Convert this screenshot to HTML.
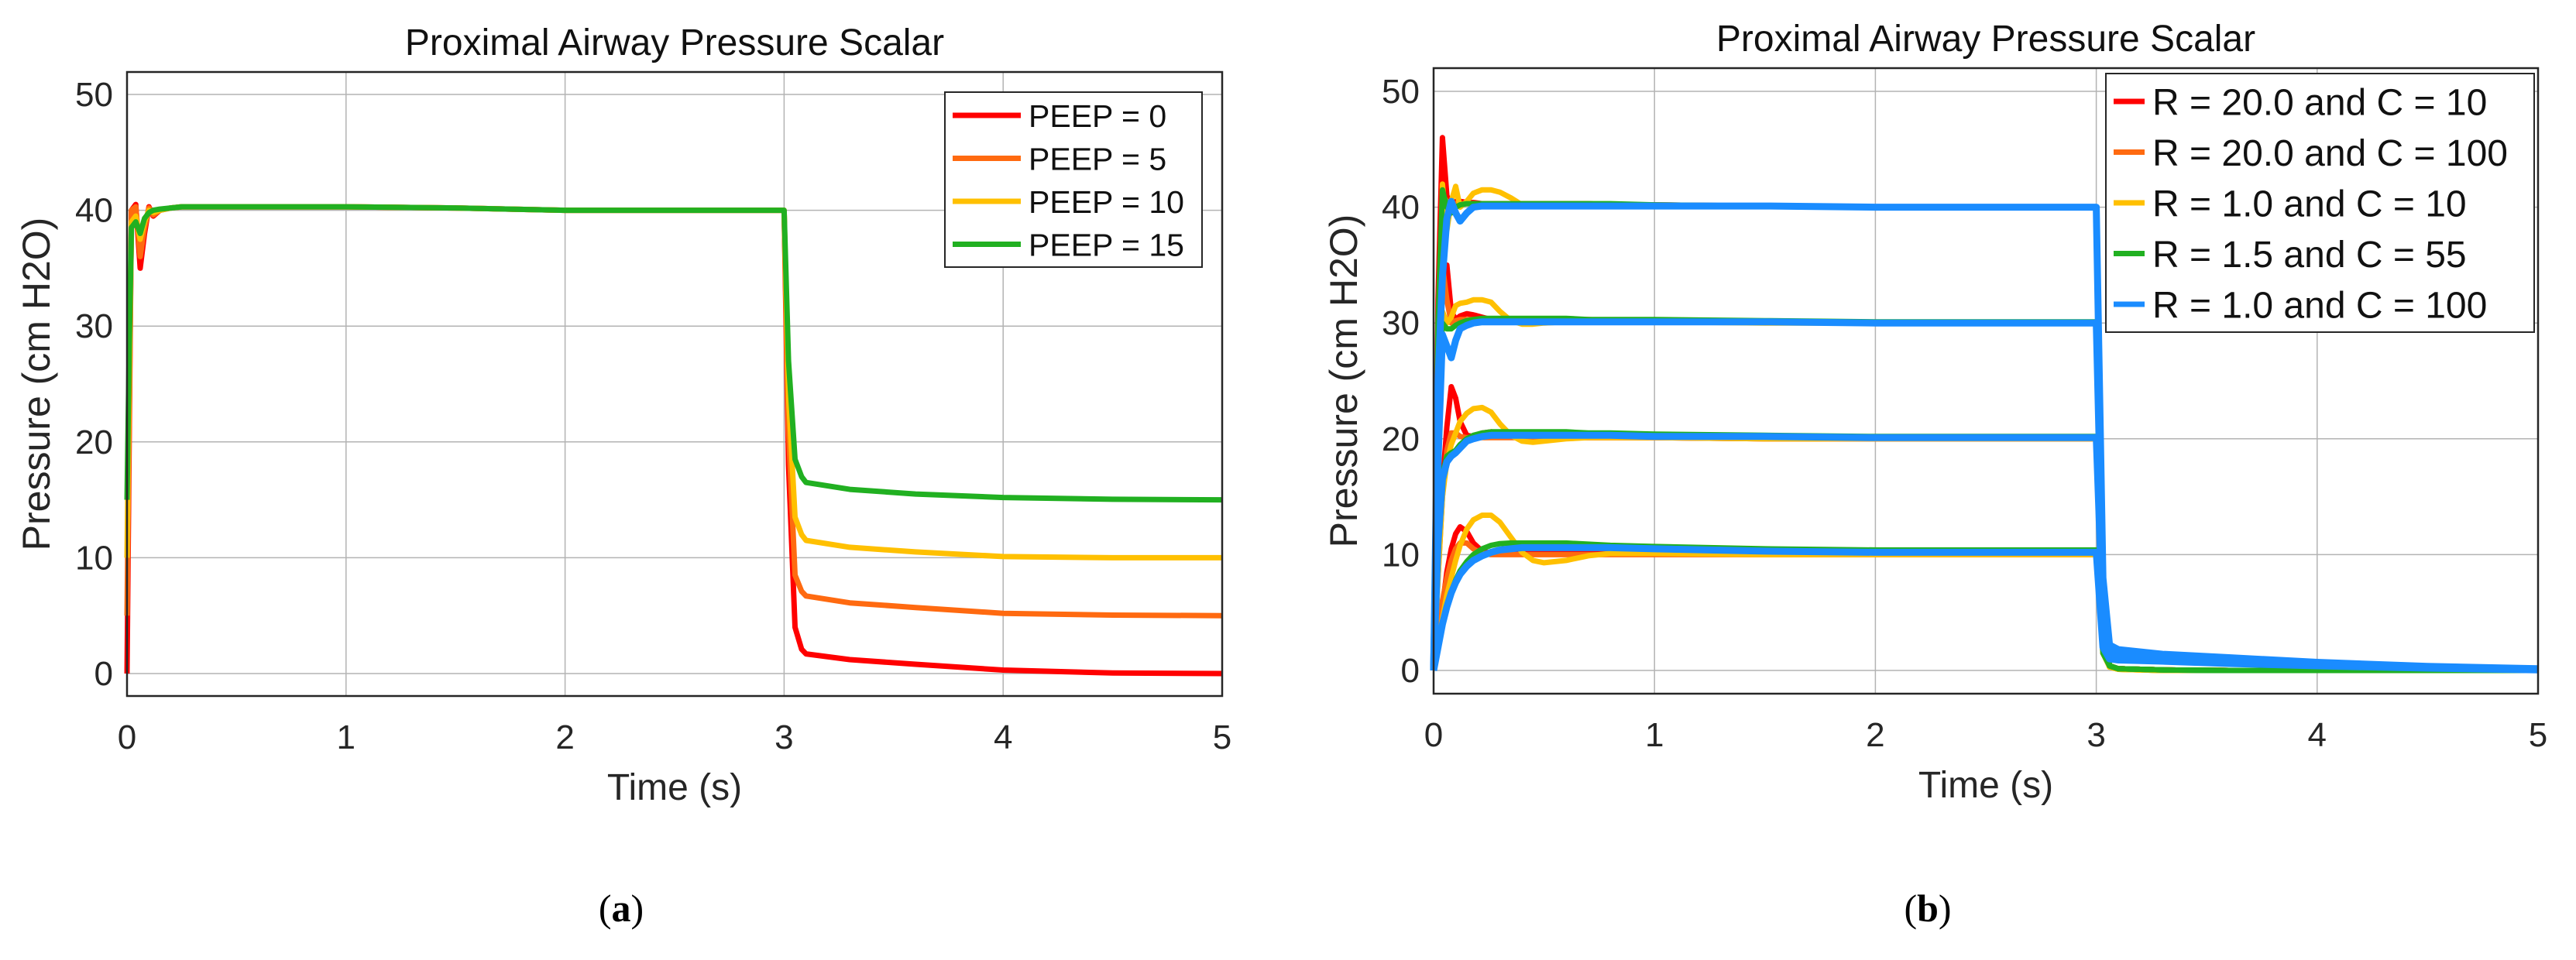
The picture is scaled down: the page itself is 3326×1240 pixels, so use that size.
<!DOCTYPE html>
<html><head><meta charset="utf-8"><style>
html,body{margin:0;padding:0;background:#fff;}
svg{display:block;font-family:"Liberation Sans",sans-serif;}
</style></head><body>
<svg id="fig" width="3326" height="1240" viewBox="0 0 3326 1240"></svg>
<script>
const xTicks=[0,1,2,3,4,5];
const yTicks=[0,10,20,30,40,50];
const leftNames=["PEEP = 0","PEEP = 5","PEEP = 10","PEEP = 15"];
const rightNames=["R = 20.0 and C = 10","R = 20.0 and C = 100","R = 1.0 and C = 10","R = 1.5 and C = 55","R = 1.0 and C = 100"];
const colors=["#ff0000","#ff6a10","#ffc000","#21b021","#1a8cff"];
const tLeft=[0,0.01,0.02,0.04,0.06,0.08,0.1,0.12,0.15,0.2,0.25,0.3,0.35,0.4,0.5,0.6,0.7,0.8,1.0,1.5,2.0,2.5,2.99,3.0,3.02,3.05,3.08,3.1,3.3,3.6,4.0,4.5,5.0];
const peep0=[0,20,40,40.5,35,38,40.3,39.5,40,40.2,40.3,40.3,40.3,40.3,40.3,40.3,40.3,40.3,40.3,40.2,40,40,40,40,18,4,2.1,1.7,1.2,0.8,0.3,0.05,0];
const peep5=[5,22,40,40.3,36,38.5,40.2,39.6,40,40.2,40.3,40.3,40.3,40.3,40.3,40.3,40.3,40.3,40.3,40.2,40,40,40,40,21,8.5,7.1,6.7,6.1,5.7,5.2,5.05,5];
const peep10=[10,25,39,39.5,37.5,39,40,39.8,40,40.2,40.3,40.3,40.3,40.3,40.3,40.3,40.3,40.3,40.3,40.2,40,40,40,40,24,13.5,12,11.5,10.9,10.5,10.1,10,10];
const peep15=[15,28,38.5,39,38,39.3,39.8,40,40.1,40.2,40.3,40.3,40.3,40.3,40.3,40.3,40.3,40.3,40.3,40.2,40,40,40,40,27,18.5,17,16.5,15.9,15.5,15.2,15.05,15];
const tRight=[0,0.02,0.04,0.06,0.08,0.1,0.12,0.15,0.18,0.22,0.26,0.3,0.35,0.4,0.45,0.5,0.6,0.7,0.8,1.0,1.5,2.0,2.5,2.99,3.0,3.03,3.06,3.1,3.3,3.6,4.0,4.5,5.0];
const red40=[0,32,46,41,40,40.5,40.5,40.4,40.4,40.3,40.3,40.3,40.3,40.3,40.3,40.3,40.3,40.3,40.2,40.2,40.1,40,40,40,40,6,0.4,0.15,0.05,0,0,0,0];
const red30=[0,22,33,35,31,30.3,30.6,30.8,30.7,30.5,30.3,30.2,30.2,30.2,30.2,30.2,30.2,30.2,30.2,30.2,30.1,30,30,30,30,4.5,0.4,0.15,0.05,0,0,0,0];
const red20=[0,9,16,21,24.5,23.5,21.5,20.3,20.2,20.5,20.6,20.4,20.2,20.1,20.1,20.1,20.1,20.1,20.1,20.1,20,20,20,20,20,3,0.4,0.15,0.05,0,0,0,0];
const red10=[0,2.5,5.5,8.5,10.5,11.8,12.4,12,11,10.3,10.1,10.1,10.2,10.2,10.1,10.1,10.1,10.1,10.1,10.1,10,10,10,10,10,1.5,0.4,0.15,0.05,0,0,0,0];
const orange40=[0,28,41,40.5,40.2,40.3,40.3,40.3,40.3,40.3,40.3,40.3,40.3,40.3,40.3,40.3,40.3,40.3,40.2,40.2,40.1,40,40,40,40,6,0.4,0.15,0.05,0,0,0,0];
const orange30=[0,20,35,32,30,30.2,30.3,30.3,30.3,30.3,30.3,30.3,30.3,30.3,30.3,30.3,30.3,30.3,30.2,30.2,30.1,30,30,30,30,4.5,0.4,0.15,0.05,0,0,0,0];
const orange20=[0,8,15,19,20.5,20.5,20.2,20.1,20.1,20.1,20.1,20.1,20.1,20.1,20.1,20.1,20.1,20.1,20.1,20.1,20,20,20,20,20,3,0.4,0.15,0.05,0,0,0,0];
const orange10=[0,3,6,8,9.5,10.5,11,11,10.5,10.1,10,10,10,10,10,10,10,10,10,10,10,10,10,10,10,1.5,0.4,0.15,0.05,0,0,0,0];
const yellow40=[0,25,42,38,40.5,41.8,40,40.5,41.2,41.5,41.5,41.3,40.8,40.2,40.1,40.1,40.1,40.1,40.1,40.1,40.1,40,40,40,40,6,0.3,0.1,0,0,0,0,0];
const yellow30=[0,18,31,30,30.5,31.5,31.7,31.8,32,32,31.8,31,30.2,29.9,29.9,30,30.1,30.1,30.1,30.1,30,30,30,30,30,4.5,0.3,0.1,0,0,0,0,0];
const yellow20=[0,8,15,18,19.5,20.5,21.5,22.2,22.6,22.7,22.3,21.3,20.3,19.8,19.7,19.8,20,20.1,20.1,20.1,20,20,20,20,20,3,0.3,0.1,0,0,0,0,0];
const yellow10=[0,2,4.5,6.5,8,9.5,10.8,12.2,13,13.4,13.4,12.8,11.5,10.2,9.5,9.3,9.5,9.9,10.1,10.1,10,10,10,10,10,1.5,0.3,0.1,0,0,0,0,0];
const green40=[0,30,41.5,40,39.5,40,40.2,40.3,40.3,40.3,40.3,40.3,40.3,40.3,40.3,40.3,40.3,40.3,40.3,40.2,40.1,40,40,40,40,6,0.4,0.15,0.05,0,0,0,0];
const green30=[0,22,30,29.5,29.5,29.8,30,30.2,30.3,30.4,30.4,30.4,30.4,30.4,30.4,30.4,30.4,30.3,30.3,30.3,30.2,30.1,30.1,30.1,30.1,4.5,0.4,0.15,0.05,0,0,0,0];
const green20=[0,12,17,18.5,18.8,19,19.5,20,20.3,20.5,20.6,20.6,20.6,20.6,20.6,20.6,20.6,20.5,20.5,20.4,20.3,20.2,20.2,20.2,20.2,3,0.4,0.15,0.05,0,0,0,0];
const green10=[0,2,4,5.5,6.8,7.8,8.6,9.4,10,10.5,10.8,10.95,11,11,11,11,11,10.9,10.8,10.7,10.5,10.4,10.4,10.4,10.4,1.5,0.4,0.15,0.05,0,0,0,0];
const blue40=[0,25,34,39,40.5,39.5,38.8,39.5,40,40.1,40.1,40.1,40.1,40.1,40.1,40.1,40.1,40.1,40.1,40.1,40.1,40,40,40,40,8,2.2,1.8,1.4,1.1,0.7,0.35,0.15];
const blue30=[0,18,29,28,27,28.5,29.5,29.8,30,30.1,30.1,30.1,30.1,30.1,30.1,30.1,30.1,30.1,30.1,30.1,30.1,30,30,30,30,6,1.8,1.5,1.2,0.9,0.6,0.3,0.1];
const blue20=[0,11,16.5,18,18.5,18.8,19.2,19.8,20,20.2,20.3,20.3,20.3,20.3,20.3,20.3,20.3,20.3,20.3,20.2,20.2,20.1,20.1,20.1,20.1,4,1.4,1.2,1.0,0.8,0.5,0.25,0.08];
const blue10=[0,2,4,5.5,6.7,7.6,8.3,9,9.5,9.9,10.2,10.4,10.5,10.6,10.6,10.6,10.6,10.6,10.6,10.5,10.3,10.2,10.2,10.2,10.2,2,1,0.9,0.8,0.6,0.4,0.2,0.05];

const NS="http://www.w3.org/2000/svg";
const svg=document.getElementById('fig');
function mk(tag,attrs,parent){const e=document.createElementNS(NS,tag);for(const k in attrs)e.setAttribute(k,attrs[k]);(parent||svg).appendChild(e);return e;}

function panel(P,seriesSets,names,tArr,letter,lineW){
  const xs=v=>P.x0+(v-0)/(5-0)*(P.x1-P.x0);
  const ys=v=>P.y0+(v-0)/(50-0)*(P.y50-P.y0);
  const g=mk('g',{});
  
  
  mk('rect',{x:P.x0,y:P.top,width:P.x1-P.x0,height:P.bot-P.top,fill:'#fff'},g);
  xTicks.forEach(t=>{
    const l=mk('line',{x1:xs(t),x2:xs(t),y1:P.top,y2:P.bot,stroke:'#b3b3b3','stroke-width':1.5},g);
    
    
    const tx=mk('text',{x:xs(t),y:P.bot+68,'font-size':44,'text-anchor':'middle',fill:'#262626'},g);
    tx.textContent=t;
    
    
  });
  yTicks.forEach(t=>{
    const l=mk('line',{x1:P.x0,x2:P.x1,y1:ys(t),y2:ys(t),stroke:'#b3b3b3','stroke-width':1.5},g);
    
    
    const tx=mk('text',{x:P.x0-18,y:ys(t)+15,'font-size':44,'text-anchor':'end',fill:'#262626'},g);
    tx.textContent=t;
    
    
  });
  seriesSets.forEach((s,i)=>{
    s.arrs.forEach(arr=>{
      const d=arr.map((v,k)=>(k?'L':'M')+xs(tArr[k]).toFixed(1)+','+ys(v).toFixed(1)).join('');
      const p=mk('path',{d:d,fill:'none',stroke:colors[s.c],'stroke-width':s.w||lineW,'stroke-linejoin':'round'},g);
      
      
    });
  });
  const fr=mk('rect',{x:P.x0,y:P.top,width:P.x1-P.x0,height:P.bot-P.top,fill:'none',stroke:'#262626','stroke-width':2.5},g);
  
  
  const ti=mk('text',{x:(P.x0+P.x1)/2,y:P.top-22,'font-size':48,'text-anchor':'middle',fill:'#111'},g);
  ti.textContent='Proximal Airway Pressure Scalar';
  
  
  const xl=mk('text',{x:(P.x0+P.x1)/2,y:P.bot+134,'font-size':48,'text-anchor':'middle',fill:'#262626'},g);
  xl.textContent='Time (s)';
  
  
  const cy=(P.top+P.bot)/2;
  const yl=mk('text',{x:P.ylx,y:cy,'font-size':50,'text-anchor':'middle',fill:'#262626',transform:'rotate(-90 '+P.ylx+' '+cy+')'},g);
  yl.textContent='Pressure (cm H2O)';
  
  
  const lb=mk('rect',{x:P.lg.x,y:P.lg.y,width:P.lg.w,height:P.lg.h,fill:'#fff',stroke:'#262626','stroke-width':2},g);
  
  
  names.forEach((n,i)=>{
    const yy=P.lg.y+P.lg.first+i*P.lg.step;
    const ll=mk('line',{x1:P.lg.x+10,x2:P.lg.x+10+P.lg.len,y1:yy,y2:yy,stroke:colors[i],'stroke-width':7},g);
    
    
    const lt=mk('text',{x:P.lg.x+20+P.lg.len,y:yy+P.lg.fs*0.36,'font-size':P.lg.fs,fill:'#111'},g);
    lt.textContent=n;
    
    
  });
  const cap=mk('text',{x:P.capx,y:1190,'font-size':50,'text-anchor':'middle','font-family':'Liberation Serif, serif',fill:'#000'},g);
  cap.innerHTML='(<tspan font-weight="bold">'+letter+'</tspan>)';
  
  
}

panel({name:'left-chart',x0:164,x1:1578,top:93,bot:899,y0:870,y50:122,ylx:64,capx:802,
  lg:{x:1220,y:119,w:332,h:226,first:30,step:55.5,len:88,fs:41}},
  [{c:0,arrs:[peep0]},{c:1,arrs:[peep5]},{c:2,arrs:[peep10]},{c:3,arrs:[peep15]}],
  leftNames,tLeft,'a',7);

panel({name:'right-chart',x0:1851,x1:3277,top:88,bot:896,y0:866,y50:118,ylx:1752,capx:2489,
  lg:{x:2719,y:95,w:553,h:334,first:36,step:65.5,len:40,fs:48}},
  [{c:0,arrs:[red40,red30,red20,red10]},{c:1,arrs:[orange40,orange30,orange20,orange10]},
   {c:2,arrs:[yellow40,yellow30,yellow20,yellow10]},{c:3,arrs:[green40,green30,green20,green10]},
   {c:4,arrs:[blue40,blue30,blue20,blue10],w:9}],
  rightNames,tRight,'b',7);
</script>
</body></html>
